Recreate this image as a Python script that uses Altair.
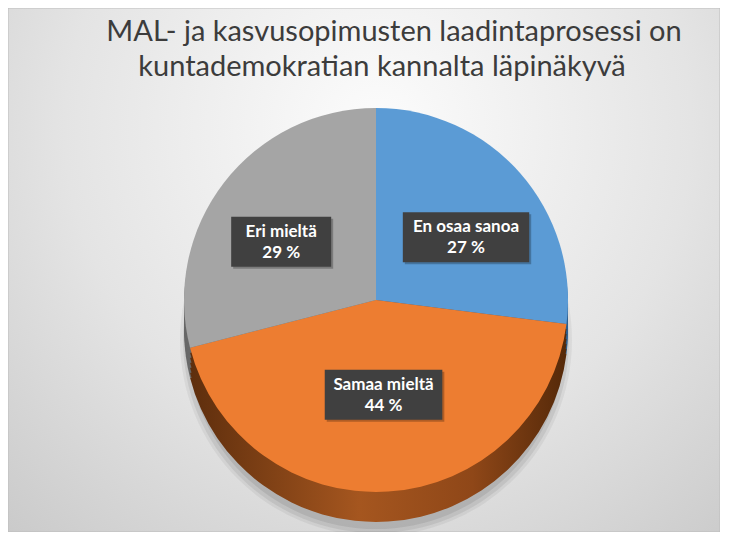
import math
import altair as alt
import pandas as pd

# ---- data ----
categories = ["En osaa sanoa", "Samaa mieltä", "Eri mieltä"]
values = [27, 44, 29]
pct_labels = ["27 %", "44 %", "29 %"]
order_idx = [0, 1, 2]
title_lines = ["MAL- ja kasvusopimusten laadintaprosessi on",
               "kuntademokratian kannalta läpinäkyvä"]

# ---- styles ----
top_colors = ["#5B9BD5", "#ED7D31", "#A5A5A5"]
orange_side = {"gradient": "linear", "x1": 0, "y1": 0, "x2": 1, "y2": 0,
               "stops": [{"offset": 0, "color": "#5E2E0D"},
                         {"offset": 0.45, "color": "#A5561F"},
                         {"offset": 0.75, "color": "#8F4718"},
                         {"offset": 1, "color": "#552909"}]}
side_fills = {"En osaa sanoa": "#2F5F8E", "Samaa mieltä": orange_side, "Eri mieltä": "#686868"}
bg_grad = {"gradient": "radial", "x1": 0.52, "y1": 0.3, "r1": 0,
           "x2": 0.52, "y2": 0.3, "r2": 0.8,
           "stops": [{"offset": 0, "color": "#FCFCFC"},
                     {"offset": 0.55, "color": "#E4E4E4"},
                     {"offset": 1, "color": "#C8C8C8"}]}
FONT = "Lato"

W, H = 712, 524
CX, CY, R = 368, 292, 192
DEPTH = 30
LABEL_RX, LABEL_RY = 120, 95

df = pd.DataFrame({"cat": categories, "value": values, "pct": pct_labels, "idx": order_idx})

xs = alt.Scale(domain=[0, W], nice=False, zero=False)
ys = alt.Scale(domain=[0, H], nice=False, zero=False, reverse=True)

base = (alt.Chart(df)
        .transform_window(cum="sum(value)", sort=[alt.SortField("idx")], frame=[None, 0])
        .transform_calculate(start="datum.cum - datum.value"))

theta_enc = dict(
    theta=alt.Theta("start:Q", scale=alt.Scale(domain=[0, 100]), stack=None),
    theta2="cum:Q",
)

# background
bg = alt.Chart(pd.DataFrame({"a": [0]})).mark_rect(
    fill=bg_grad, stroke="#BDBDBD", strokeWidth=1
).encode(x=alt.value(0), x2=alt.value(W), y=alt.value(0), y2=alt.value(H))

# soft shadow under pie
shadow_layers = []
for k, op in [(4, 0.05), (1, 0.07), (-3, 0.08)]:
    shadow_layers.append(
        alt.Chart(pd.DataFrame({"a": [0]})).mark_arc(
            radius=R + k, theta=0, theta2=2 * math.pi, color="#000000", opacity=op
        ).encode(x=alt.value(CX), y=alt.value(CY + DEPTH + 10))
    )

# pie side (depth)
side_layers = []
for off in range(DEPTH, 0, -5):
    for c in categories:
        side_layers.append(
            base.transform_filter(alt.datum.cat == c)
            .mark_arc(radius=R)
            .encode(x=alt.value(CX), y=alt.value(CY + off), fill=alt.value(side_fills[c]), **theta_enc)
        )

# pie top face
top = base.mark_arc(radius=R).encode(
    x=alt.value(CX), y=alt.value(CY),
    color=alt.Color("cat:N", scale=alt.Scale(domain=categories, range=top_colors), legend=None),
    **theta_enc,
)

lab = (base.transform_joinaggregate(total="sum(value)")
       .transform_calculate(
           mid="(datum.start + datum.value / 2) / datum.total * 2 * PI",
           lx=f"{CX} + {LABEL_RX} * sin(datum.mid)",
           ly=f"{CY} - {LABEL_RY} * cos(datum.mid)",
           hw="max(length(datum.cat), length(datum.pct)) * 4.4 + 6",
           bx1="datum.lx - datum.hw", bx2="datum.lx + datum.hw",
           by1="datum.ly - 25", by2="datum.ly + 25",
           txt="datum.cat + '\\n' + datum.pct",
       ))

box_shadow = lab.mark_rect(color="#000000", opacity=0.25, xOffset=2, x2Offset=2, yOffset=2, y2Offset=2).encode(
    x=alt.X("bx1:Q", scale=xs, axis=None), x2="bx2:Q",
    y=alt.Y("by1:Q", scale=ys, axis=None), y2="by2:Q")
box = lab.mark_rect(color="#404040").encode(
    x=alt.X("bx1:Q", scale=xs, axis=None), x2="bx2:Q",
    y=alt.Y("by1:Q", scale=ys, axis=None), y2="by2:Q")
txt = lab.mark_text(font=FONT, fontSize=17, fontWeight="bold", color="white",
                    lineHeight=21, baseline="middle", align="center", lineBreak="\n", dy=-10).encode(
    x=alt.X("lx:Q", scale=xs, axis=None), y=alt.Y("ly:Q", scale=ys, axis=None), text="txt:N")

tdf = pd.DataFrame({"t": title_lines})
title1 = alt.Chart(tdf).transform_filter(alt.datum.t == title_lines[0]).mark_text(
    font=FONT, fontSize=29, color="#3C3C3C", align="center", baseline="alphabetic"
).encode(x=alt.value(386), y=alt.value(33), text="t:N")
title2 = alt.Chart(tdf).transform_filter(alt.datum.t == title_lines[1]).mark_text(
    font=FONT, fontSize=29, color="#3C3C3C", align="center", baseline="alphabetic"
).encode(x=alt.value(374), y=alt.value(68), text="t:N")

chart = alt.layer(bg, *shadow_layers, *side_layers, top, box_shadow, box, txt, title1, title2).properties(
    width=W, height=H, autosize=alt.AutoSizeParams(type="none"), padding=0
).configure_view(stroke=None)

chart.save("out.html", embed_options={"renderer": "svg", "actions": False})
